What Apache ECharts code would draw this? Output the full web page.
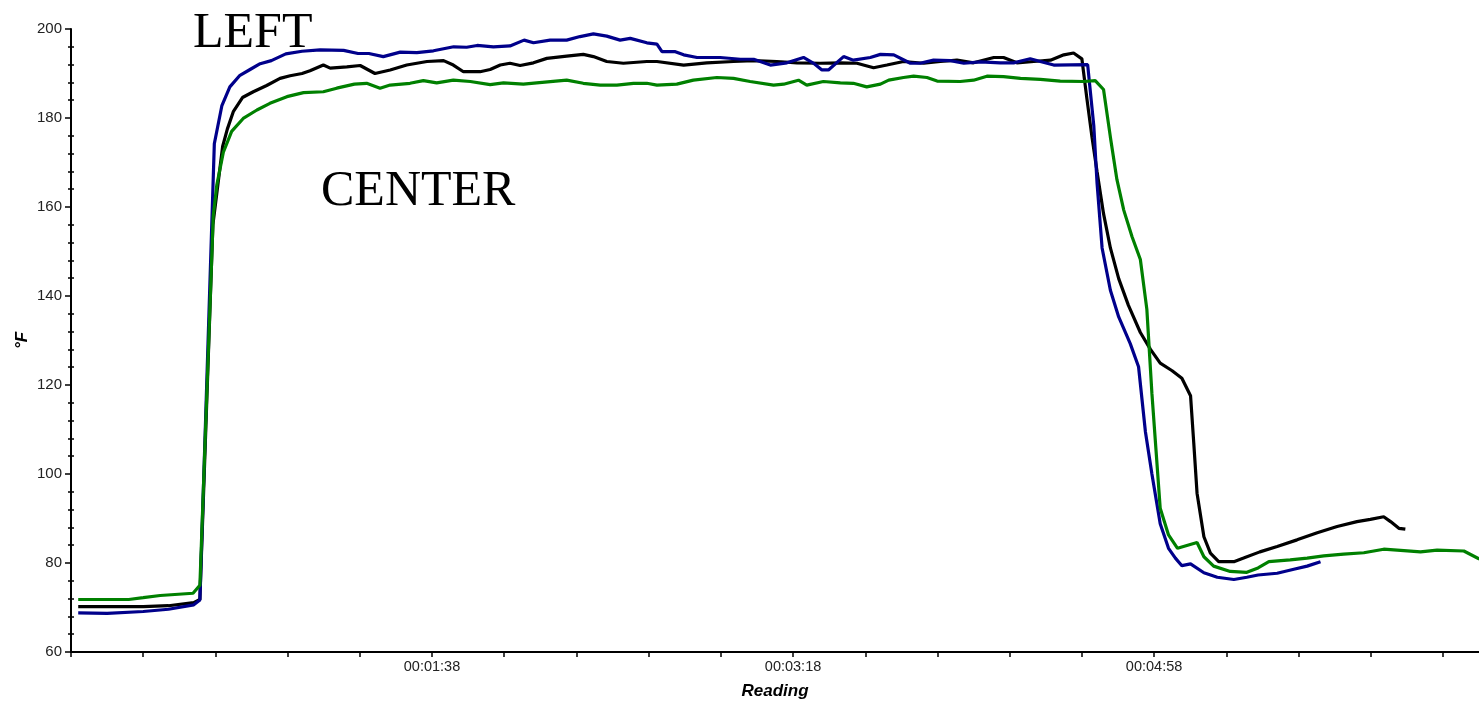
<!DOCTYPE html>
<html>
<head>
<meta charset="utf-8">
<script src="https://cdn.jsdelivr.net/npm/echarts@6/dist/echarts.min.js"></script>
<style>
html,body{margin:0;padding:0;background:#fff;}
#chart{width:1479px;height:703px;}
</style>
</head>
<body>
<div id="chart"></div>
<script>
// seconds since first reading, temperature (°F)
const leftSeries = [[0,68.8],[8,68.7],[18,69.1],[25,69.6],[32,70.6],[33.7,71.7],[37.7,174.2],[39.8,182.8],[42,187],[44.8,189.6],[47.6,190.9],[50.4,192.2],[53.5,192.9],[57.5,194.4],[62,195],[67,195.3],[73.5,195.2],[77.5,194.5],[80.5,194.5],[84.5,193.8],[89.2,194.8],[93.8,194.7],[98.4,195.1],[104,196],[107.6,195.9],[110.5,196.3],[115,196],[119.6,196.2],[123.5,197.5],[126.1,196.9],[130.7,197.5],[135.3,197.5],[139,198.3],[142.7,198.9],[146.4,198.4],[150.1,197.5],[152.9,197.9],[157.5,196.9],[160.3,196.6],[161.7,194.9],[165.4,194.9],[167.7,194.2],[171.4,193.6],[177.8,193.6],[183.4,193.2],[187.1,193.2],[191.7,191.9],[196.3,192.4],[200.9,193.6],[203.7,192.3],[206,190.8],[207.8,190.8],[212,193.8],[214.7,193],[219.4,193.6],[222.2,194.3],[225.9,194.2],[230.5,192.3],[233.2,192.3],[236.9,193],[241.6,192.9],[245.3,192.3],[249.9,192.6],[255.4,192.4],[259.1,192.4],[263.7,193.3],[266.5,192.7],[270.2,191.9],[279.6,192],[281.3,178.3],[282.2,165.4],[283.6,150.8],[285.9,141.3],[288.2,135.3],[291.4,129.3],[293.7,124.1],[295.6,109.5],[297.4,100],[299.7,88.8],[302,83.3],[303.9,81.1],[305.7,79.4],[308.1,79.8],[311.8,77.8],[315.5,76.8],[320.1,76.3],[323.7,76.8],[326.8,77.3],[332.1,77.7],[336.7,78.6],[340.4,79.3],[344.1,80.3]];

const centerSeries = [[0,70.2],[18,70.2],[25,70.4],[32,71.1],[33.7,71.8],[37.3,156],[40,173.6],[41.3,177.5],[43,181.5],[45.5,184.6],[48.5,185.9],[52.2,187.3],[55.9,188.9],[58.7,189.5],[62,190],[64.2,190.6],[67.9,191.9],[69.8,191.2],[74.4,191.5],[78.1,191.8],[82.2,190],[86.4,190.8],[91,191.9],[96.6,192.7],[101.2,192.9],[103.9,191.9],[106.7,190.4],[111.3,190.4],[114.1,190.9],[116.9,191.9],[119.6,192.3],[122.4,191.8],[126.1,192.4],[129.8,193.4],[135.3,193.9],[139.9,194.3],[142.7,193.8],[146.4,192.7],[151,192.3],[157.5,192.7],[160.3,192.7],[167.7,191.9],[174.1,192.4],[181.5,192.7],[187.1,192.9],[193.5,192.7],[199.1,192.4],[205.5,192.3],[211.1,192.4],[215.7,192.3],[220.3,191.3],[224,191.9],[228.6,192.7],[234.2,192.3],[238.8,192.7],[243.4,193],[248,192.4],[253.6,193.6],[256.3,193.6],[260,192.4],[264.7,192.7],[269.3,193],[273,194.2],[275.7,194.6],[278,193.3],[279.4,184.3],[280.8,175.7],[282.2,168],[284,158.5],[285.9,150.8],[288.2,143.9],[290.9,137.9],[294.2,131.8],[297,128],[299.7,124.9],[303,123.2],[305.7,121.5],[308.1,117.6],[309,106.9],[309.9,95.7],[311.8,85.9],[313.6,82.2],[315.9,80.3],[320.1,80.3],[322.8,81.1],[327.3,82.5],[332.1,83.7],[337.6,85.2],[343.2,86.8],[348.7,88.2],[354.2,89.3],[357.9,89.8],[361.6,90.4],[363.5,89.3],[365.8,87.8],[367.6,87.6]];

const rightSeries = [[0,71.8],[14,71.8],[18,72.2],[22.7,72.7],[31.8,73.2],[33.7,75],[37.4,158],[38.4,165],[40.2,172.3],[42.5,177],[45.7,179.9],[49.5,181.8],[53.1,183.3],[57.8,184.8],[62.4,185.7],[67.9,185.9],[71.6,186.7],[76.5,187.6],[79.9,187.8],[83.6,186.7],[86.4,187.4],[91.9,187.8],[95.6,188.4],[99.3,187.9],[103.9,188.5],[108.6,188.2],[114.1,187.5],[117.8,187.9],[123.3,187.6],[127,187.9],[135.3,188.5],[139.9,187.8],[144.6,187.4],[149.2,187.4],[153.8,187.8],[157.5,187.8],[160.3,187.4],[165.8,187.6],[170.4,188.5],[176.9,189.1],[181.5,188.9],[186.1,188.2],[192.6,187.4],[195.4,187.6],[199.5,188.5],[201.8,187.4],[206.4,188.2],[211.1,187.9],[214.7,187.8],[218.4,187],[222.2,187.6],[224.5,188.5],[228.6,189.1],[231.4,189.4],[235.1,189.1],[237.9,188.3],[244.3,188.2],[248,188.5],[251.7,189.4],[256.3,189.3],[261,188.9],[266.5,188.7],[272,188.3],[278.5,188.2],[281.7,188.4],[284,186.4],[285.9,175.7],[287.7,166.2],[289.6,159.3],[291.9,153.3],[294.2,148.2],[296,137],[297.4,118.1],[299.7,92.3],[302,86.3],[304.5,83.3],[309.9,84.6],[311.8,81.4],[314.5,79.3],[319.1,78.1],[323.7,77.9],[326.8,78.9],[329.8,80.3],[335.7,80.7],[340.4,81.1],[345,81.6],[350.5,82],[356.1,82.3],[361.6,83.1],[367.2,82.8],[371.8,82.5],[376.4,82.9],[383.8,82.7],[388.1,80.9]];

const seriesNames = ['Center', 'Left', 'Right'];
const seriesColors = ['#000000', '#00008b', '#008000'];
const timeOffset = 2;          // axis starts 2 s before the first reading
const xTickValues = [0,20,40,60,80,100,120,140,160,180,200,220,240,260,280,300,320,340,360,380];
const xLabelValues = [100,200,300];
const annotations = ['LEFT', 'CENTER'];

function fmtTime(u) {
  const s = Math.round(u - timeOffset);
  const hh = Math.floor(s / 3600), mm = Math.floor((s % 3600) / 60), ss = s % 60;
  const p = n => String(n).padStart(2, '0');
  return p(hh) + ':' + p(mm) + ':' + p(ss);
}
const shift = arr => arr.map(d => [d[0] + timeOffset, d[1]]);
const allData = [centerSeries, leftSeries, rightSeries];

const chart = echarts.init(document.getElementById('chart'), null, {renderer: 'canvas'});
const sans = 'Liberation Sans, Arial, sans-serif';
const yCommon = {type: 'value', min: 60, max: 200, interval: 20, position: 'left'};

chart.setOption({
  animation: false,
  backgroundColor: '#ffffff',
  grid: {left: 71, right: 0, top: 29, bottom: 51, containLabel: false, outerBoundsMode: 'none'},
  xAxis: {
    type: 'value', min: 0, max: 390,
    axisLine: {onZero: false, lineStyle: {color: '#000', width: 2}},
    axisTick: {customValues: xTickValues, length: 5, lineStyle: {color: '#000', width: 1.5}},
    axisLabel: {customValues: xLabelValues, formatter: fmtTime, color: '#222', fontSize: 14.5, fontFamily: sans, margin: 7},
    splitLine: {show: false},
    name: 'Reading', nameLocation: 'middle', nameGap: 31, nameMoveOverlap: false,
    nameTextStyle: {fontStyle: 'italic', fontWeight: 'bold', fontSize: 17, color: '#000', fontFamily: sans}
  },
  yAxis: [
    Object.assign({}, yCommon, {
      axisLine: {show: true, lineStyle: {color: '#000', width: 2}},
      axisTick: {show: true, length: 6, lineStyle: {color: '#000', width: 1.5}},
      minorTick: {show: true, splitNumber: 5, length: 3, lineStyle: {color: '#000', width: 1.5}},
      axisLabel: {color: '#222', fontSize: 15, fontFamily: sans, margin: 9},
      splitLine: {show: false},
      name: '°F', nameLocation: 'middle', nameGap: 40, nameRotate: 90, nameMoveOverlap: false,
      nameTextStyle: {fontStyle: 'italic', fontWeight: 'bold', fontSize: 17, color: '#000', fontFamily: sans}
    }),
    Object.assign({}, yCommon, {
      axisLine: {show: false},
      axisTick: {show: false, inside: true},
      minorTick: {show: true, splitNumber: 5, length: 3, lineStyle: {color: '#000', width: 1.5}},
      axisLabel: {show: false},
      splitLine: {show: false}
    })
  ],
  graphic: [
    {type: 'text', x: 193, y: 34, silent: true,
     style: {text: annotations[0], font: '50px "Liberation Serif", "Times New Roman", serif', fill: '#000', textAlign: 'left', textVerticalAlign: 'middle'}},
    {type: 'text', x: 321, y: 192, silent: true,
     style: {text: annotations[1], font: '50px "Liberation Serif", "Times New Roman", serif', fill: '#000', textAlign: 'left', textVerticalAlign: 'middle'}}
  ],
  series: allData.map((d, i) => ({
    name: seriesNames[i], type: 'line', data: shift(d), yAxisIndex: 0,
    showSymbol: false, symbol: 'none', smooth: false,
    lineStyle: {color: seriesColors[i], width: 3.2}, itemStyle: {color: seriesColors[i]},
    z: 2 + i
  }))
});
</script>
</body>
</html>
